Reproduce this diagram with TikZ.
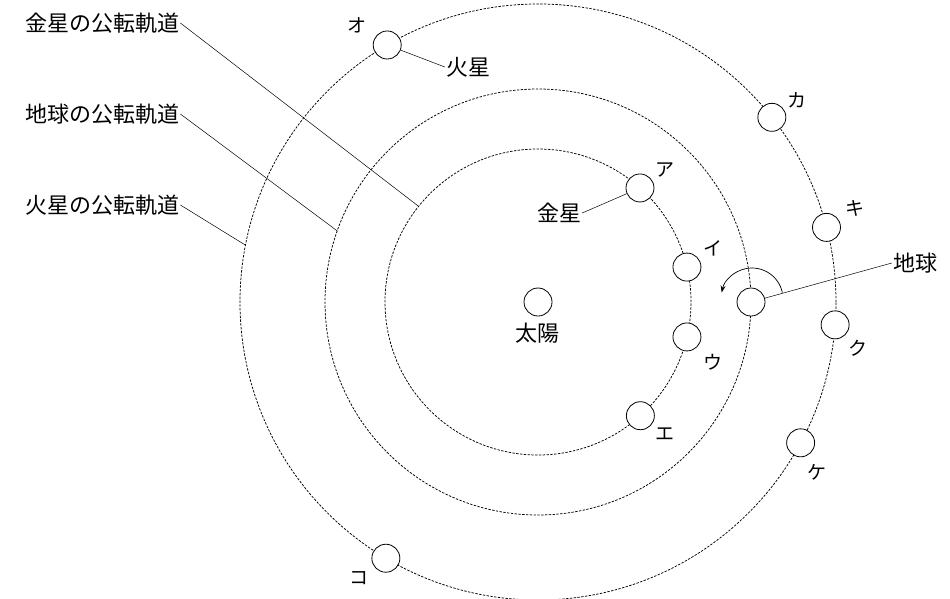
\documentclass[tikz,border=0pt]{standalone}
\usepackage{fontspec}
\setmainfont{Noto Sans CJK JP}
\usetikzlibrary{calc,arrows.meta}
\begin{document}
\begin{tikzpicture}[x=1pt,y=-1pt,
  orbit/.style={dash pattern=on 2.4pt off 1.4pt, line width=0.75pt},
  planet/.style={circle, draw, fill=white, minimum size=28pt, inner sep=0pt, line width=0.8pt},
  lead/.style={line width=0.5pt},
  kana/.style={font=\fontsize{19}{19}\selectfont, inner sep=0pt},
  lbl/.style={font=\fontsize{22}{22}\selectfont, inner sep=1pt}]
\useasboundingbox (0,0) rectangle (950,598);
\coordinate (S) at (538,302);
% orbits
\draw[orbit] (S) circle[radius=153pt];
\draw[orbit] (S) circle[radius=213pt];
\draw[orbit] (S) circle[radius=298pt];
% orbit leader targets
\coordinate (vo) at ($(S)+(141.3:153pt)$);
\coordinate (eo) at ($(S)+(160.5:213pt)$);
\coordinate (mo) at ($(S)+(169:298pt)$);
% sun
\node[planet] (sun) at (S) {};
\node[lbl] (sunl) at (537,333) {太陽};
% Venus positions
\node[planet] (pa) at ($(S)+(48.2:153pt)$) {};
\node[planet] (pi) at ($(S)+(13.2:153pt)$) {};
\node[planet] (pu) at ($(S)+(-13.2:153pt)$) {};
\node[planet] (pe) at ($(S)+(-48:153pt)$) {};
% Earth
\node[planet] (earth) at ($(S)+(0:213pt)$) {};
% Mars positions
\node[planet] (po) at ($(S)+(120.4:298pt)$) {};
\node[planet] (pka) at ($(S)+(38.3:298pt)$) {};
\node[planet] (pki) at ($(S)+(14.5:298pt)$) {};
\node[planet] (pku) at ($(S)+(-4.4:298pt)$) {};
\node[planet] (pke) at ($(S)+(-28.2:298pt)$) {};
\node[planet] (pko) at ($(S)+(-120.7:298pt)$) {};
% kana labels
\node[kana] (la) at (665,170) {ア};
\node[kana] (li) at (713,248) {イ};
\node[kana] (lu) at (713,362) {ウ};
\node[kana] (le) at (665,434) {エ};
\node[kana] (lo) at (357,25) {オ};
\node[kana] (lka) at (797,100) {カ};
\node[kana] (lki) at (855,208) {キ};
\node[kana] (lku) at (858,348) {ク};
\node[kana] (lke) at (817,472) {ケ};
\node[kana] (lko) at (359,578) {コ};
% orbit name labels
\node[lbl, anchor=west] (lvo) at (24,23) {金星の公転軌道};
\node[lbl, anchor=west] (leo) at (24,114) {地球の公転軌道};
\node[lbl, anchor=west] (lmo) at (24,205) {火星の公転軌道};
\draw[lead] (lvo.east) -- (vo);
\draw[lead] (leo.east) -- (eo);
\draw[lead] (lmo.east) -- (mo);
% planet name labels
\node[lbl] (mars) at (468,67) {火星};
\node[lbl] (venus) at (559,213) {金星};
\node[lbl] (earthl) at (915,263) {地球};
\draw[lead] (po) -- (mars.west);
\draw[lead] (venus.east) -- (pa);
\draw[lead] (earth) -- (earthl.west);
% rotation arrow
\coordinate (ec) at (752,299);
\draw[line width=0.7pt, -{Stealth[length=7pt,width=5pt]}] ($(ec)+(12:31pt)$) arc[start angle=12, end angle=168, radius=31pt];
\end{tikzpicture}
\end{document}
